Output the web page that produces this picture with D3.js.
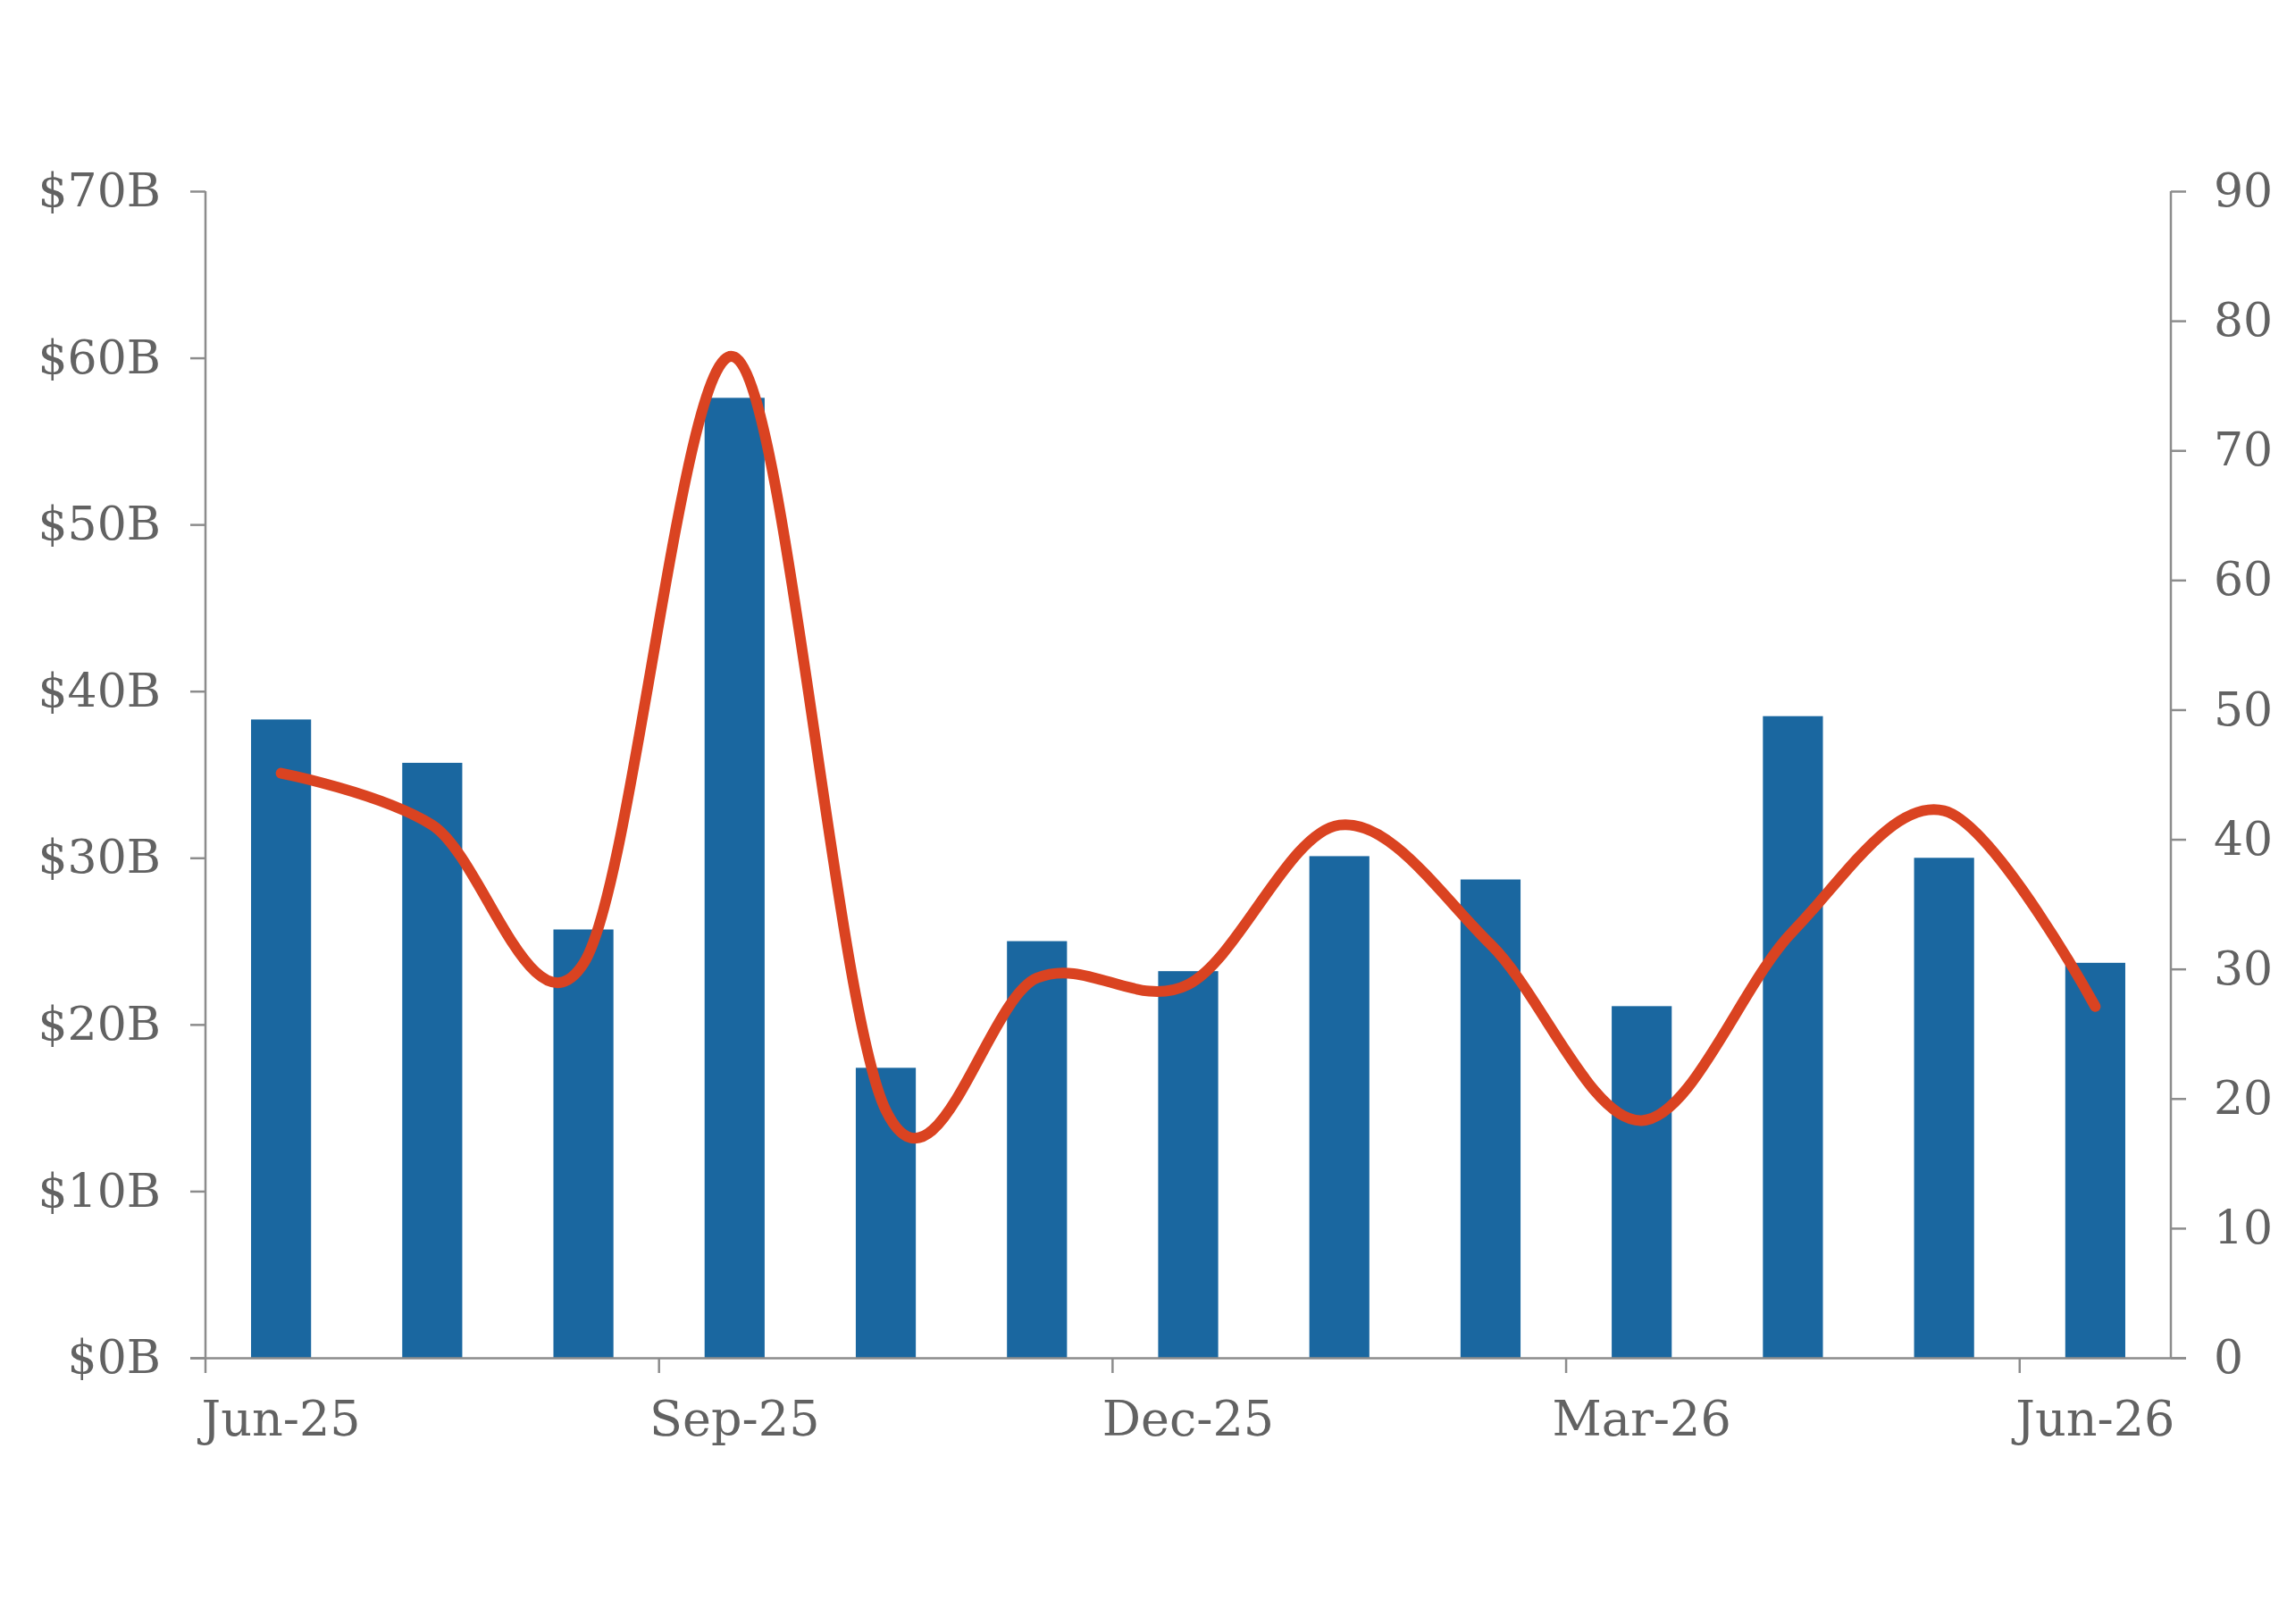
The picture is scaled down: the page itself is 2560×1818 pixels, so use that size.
<!DOCTYPE html>
<html>
<head>
<meta charset="utf-8">
<script src="https://cdn.jsdelivr.net/npm/d3@7"></script>
<style>
  html, body { margin: 0; padding: 0; background: #ffffff; }
  svg { display: block; }
</style>
</head>
<body>
<div id="chart"></div>
<script>
// ---- data ----
const months = ["Jun-25","Jul-25","Aug-25","Sep-25","Oct-25","Nov-25","Dec-25","Jan-26","Feb-26","Mar-26","Apr-26","May-26","Jun-26"];
const barValues = [38.3, 35.7, 25.7, 57.6, 17.4, 25.0, 23.2, 30.1, 28.7, 21.1, 38.5, 30.0, 23.7]; // $B, left axis
const lineValues = [45.1, 41.1, 30.4, 77.2, 19.1, 29.3, 28.8, 41.1, 31.9, 18.3, 32.9, 42.2, 27.1]; // right axis
const xTickLabels = ["Jun-25","Sep-25","Dec-25","Mar-26","Jun-26"];
const leftTicks = [0,10,20,30,40,50,60,70];
const rightTicks = [0,10,20,30,40,50,60,70,80,90];

// ---- layout ----
const W = 2560, H = 1818;
const plot = { left: 230, right: 2430, top: 214, bottom: 1520 };
const font = "'DejaVu Serif', Georgia, serif";
const textColor = "#626262";
const axisColor = "#8c8c8c";

const svg = d3.select("#chart").append("svg").attr("width", W).attr("height", H);

const xStep = d3.scaleBand().domain(months).range([plot.left, plot.right]).padding(0);
const yL = d3.scaleLinear().domain([0, 70]).range([plot.bottom, plot.top]);
const yR = d3.scaleLinear().domain([0, 90]).range([plot.bottom, plot.top]);
const barW = xStep.bandwidth() * 0.397;

// bars
svg.append("g").selectAll("rect").data(months).join("rect")
  .attr("x", d => xStep(d) + xStep.bandwidth()/2 - barW/2)
  .attr("width", barW)
  .attr("y", (d,i) => yL(barValues[i]))
  .attr("height", (d,i) => yL(0) - yL(barValues[i]))
  .attr("fill", "#1a67a0");

// left axis
const gL = svg.append("g").attr("transform", `translate(${plot.left},0)`)
  .call(d3.axisLeft(yL).tickValues(leftTicks).tickSize(17).tickPadding(33).tickFormat(d => "$" + d + "B"));
// right axis
const gR = svg.append("g").attr("transform", `translate(${plot.right},0)`)
  .call(d3.axisRight(yR).tickValues(rightTicks).tickSize(17).tickPadding(31).tickFormat(d => d));
// bottom axis: ticks at band starts
const gB = svg.append("g").attr("transform", `translate(0,${plot.bottom})`)
  .call(d3.axisBottom(xStep).tickValues(xTickLabels).tickSize(17).tickFormat(""));
gB.selectAll(".tick").attr("transform", d => `translate(${xStep(d)},0)`);
gB.select(".domain").attr("d", `M${plot.left - 17},0.5H${plot.right + 17}`);

[gL, gR, gB].forEach(g => {
  g.select(".domain").attr("stroke", axisColor).attr("stroke-width", 2.5);
  g.selectAll(".tick line").attr("stroke", axisColor).attr("stroke-width", 2.5);
  g.selectAll(".tick text").attr("fill", textColor).attr("font-family", font).attr("font-size", 52);
});
gL.select(".domain").attr("d", `M0,${plot.bottom}V${plot.top}`);
gR.select(".domain").attr("d", `M0,${plot.bottom}V${plot.top}`);

// x labels at band centers
svg.append("g").selectAll("text").data(xTickLabels).join("text")
  .attr("x", d => xStep(d) + xStep.bandwidth()/2)
  .attr("y", 1607)
  .attr("text-anchor", "middle")
  .attr("fill", textColor)
  .attr("font-family", font)
  .attr("font-size", 54)
  .text(d => d);

// smooth line
const line = d3.line()
  .x((d,i) => xStep(months[i]) + xStep.bandwidth()/2)
  .y(d => yR(d))
  .curve(d3.curveCardinal.tension(0));
svg.append("path").datum(lineValues)
  .attr("d", line)
  .attr("fill", "none")
  .attr("stroke", "#da4321")
  .attr("stroke-width", 12)
  .attr("stroke-linecap", "round")
  .attr("stroke-linejoin", "round");
</script>
</body>
</html>
